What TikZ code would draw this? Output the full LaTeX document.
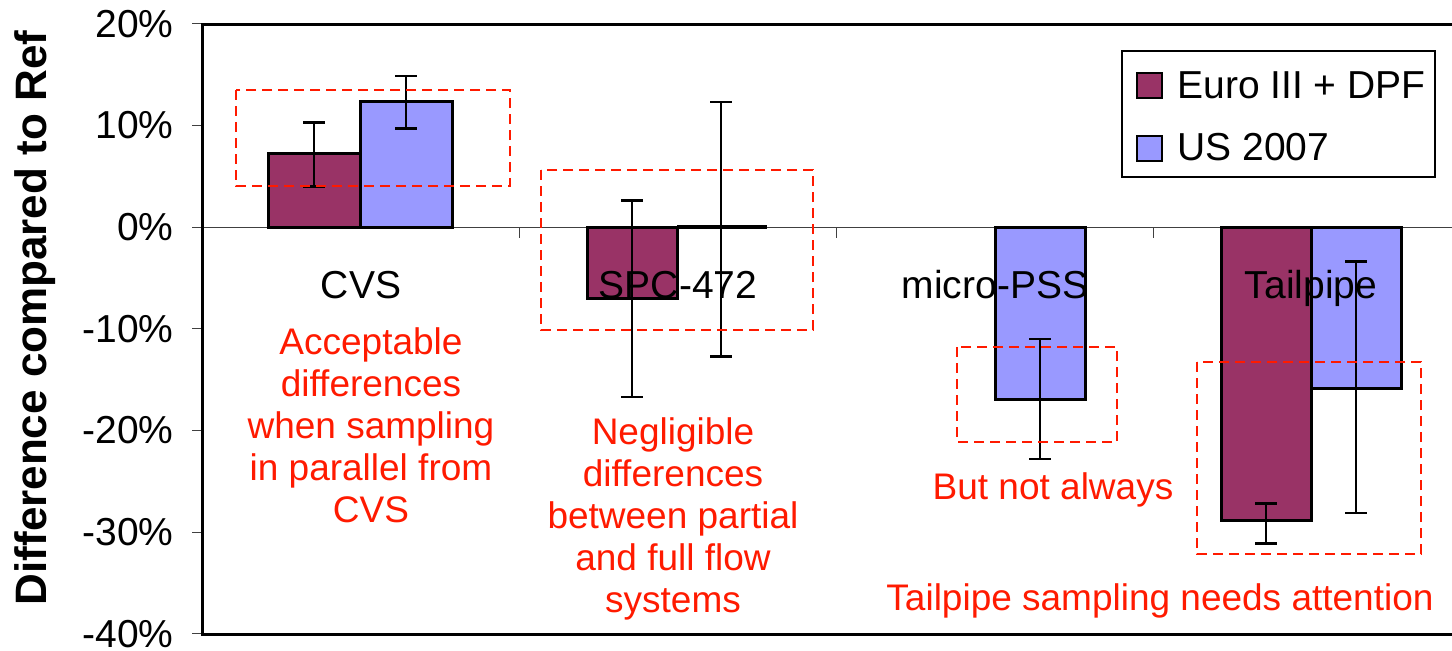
\documentclass[tikz,border=0pt]{standalone}
\usepackage{fontspec}
\setmainfont{Liberation Sans}
\definecolor{euroc}{HTML}{993366}
\definecolor{usc}{HTML}{9999FF}
\definecolor{notec}{HTML}{FF1A00}
\begin{document}
\begin{tikzpicture}[x=0.5pt,y=-0.5pt,
  axisline/.style={draw=black,line width=1.5pt},
  zeroline/.style={draw=black!75,line width=0.5pt},
  tickline/.style={draw=black!75,line width=0.5pt},
  barbox/.style={draw=black,line width=1.5pt},
  errbar/.style={draw=black,line width=1.3pt},
  hlbox/.style={draw=notec,line width=1pt,dash pattern=on 5pt off 3pt},
  ticklbl/.style={anchor=east,font=\fontsize{19.5}{23}\selectfont,inner sep=0pt},
  catlbl/.style={anchor=base,font=\fontsize{19.5}{23}\selectfont,inner sep=0pt},
  notetxt/.style={text=notec,align=center,font=\fontsize{18.5}{21}\selectfont,inner sep=0pt},
  legtxt/.style={anchor=base west,font=\fontsize{19.5}{23}\selectfont,inner sep=0pt},
  legbox/.style={draw=black,line width=0.6pt},
  legsq/.style={draw=black,line width=1.2pt}
  ]
\useasboundingbox (0,0) rectangle (1452,650);

% y-axis title
\node[rotate=90,font=\fontsize{22}{26}\selectfont\bfseries,inner sep=0pt] (ytitle) at (35,318) {Difference compared to Ref};

% tick labels
\foreach \v/\t in {20/20\%,10/10\%,0/0\%,-10/-10\%,-20/-20\%,-30/-30\%,-40/-40\%}{
  \node[ticklbl] (tl\v) at (174,{227-10.17*\v}) {\t};
  \draw[tickline] (192,{227-10.17*\v}) -- (202,{227-10.17*\v});
}

% zero line and category ticks
\draw[zeroline] (202,227) -- (1452,227);
\foreach \xx in {519,836,1153}{
  \draw[tickline] (\xx,227) -- (\xx,238);
}

% bars
\filldraw[barbox,fill=euroc] (268,227) rectangle (360,153.8);
\filldraw[barbox,fill=usc] (360,227) rectangle (452,101.9);
\filldraw[barbox,fill=euroc] (587,227) rectangle (677,298.2);
\draw[black,line width=2pt] (677,227) -- (767,227);
\filldraw[barbox,fill=usc] (995,227) rectangle (1085,399.9);
\filldraw[barbox,fill=euroc] (1221,227) rectangle (1311,520.9);
\filldraw[barbox,fill=usc] (1311,227) rectangle (1401,388.7);

% category labels
\node[catlbl] (cvs) at (361,298) {CVS};
\node[catlbl] (spc) at (678,298) {SPC-472};
\node[catlbl] (mpss) at (995,298) {micro-PSS};
\node[catlbl] (tail) at (1311,298) {Tailpipe};

% error bars
\foreach \xx/\ya/\yb in {314/186.3/122.2, 406/128.4/76.0, 632/396.8/200.6, 721/356.7/101.9, 1040/458.9/338.9, 1266/543.3/503.6, 1356/512.8/261.6}{
  \draw[errbar] (\xx,\ya) -- (\xx,\yb);
  \draw[errbar] (\xx-11,\ya) -- (\xx+11,\ya);
  \draw[errbar] (\xx-11,\yb) -- (\xx+11,\yb);
}

% axes frame
\draw[axisline] (1452,24) -- (202,24) -- (202,634) -- (1452,634);

% highlight boxes
\draw[hlbox] (236,90) rectangle (510,186);
\draw[hlbox] (541,170) rectangle (813,330);
\draw[hlbox] (957,347) rectangle (1117,442);
\draw[hlbox] (1197,362) rectangle (1421,554);

% notes
\node[notetxt,anchor=north] (n1) at (371,327) {Acceptable\\differences\\when sampling\\in parallel from\\CVS};
\node[notetxt,anchor=north] (n2) at (673,417) {Negligible\\differences\\between partial\\and full flow\\systems};
\node[notetxt,anchor=base] (n3) at (1053,499) {But not always};
\node[notetxt,anchor=base] (n4) at (1160,610) {Tailpipe sampling needs attention};

% legend
\draw[legbox] (1122,51) rectangle (1435,177);
\filldraw[legsq,fill=euroc] (1137,73) rectangle (1162,98);
\filldraw[legsq,fill=usc] (1137,136) rectangle (1162,161);
\node[legtxt] (leg1) at (1177,98) {Euro III + DPF};
\node[legtxt] (leg2) at (1177,160) {US 2007};
\end{tikzpicture}
\end{document}
